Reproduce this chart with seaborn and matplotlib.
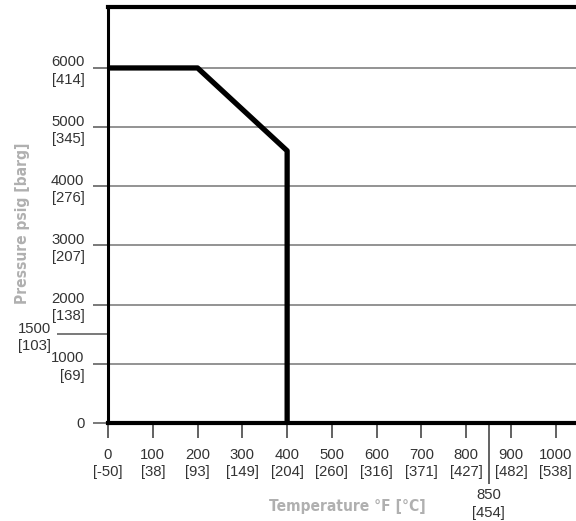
import matplotlib
matplotlib.use("Agg")
import matplotlib.pyplot as plt
import seaborn as sns
import pandas as pd

# ---- data ----
temp_f = [0, 200, 400, 400]
pressure_psig = [6000, 6000, 4600, 0]

x_ticks = [0, 100, 200, 300, 400, 500, 600, 700, 800, 900, 1000]
x_tick_labels = ["0\n[-50]", "100\n[38]", "200\n[93]", "300\n[149]", "400\n[204]",
                 "500\n[260]", "600\n[316]", "700\n[371]", "800\n[427]", "900\n[482]",
                 "1000\n[538]"]
x_extra_ticks = [850]
x_extra_labels = ["850\n[454]"]

y_ticks = [0, 1000, 2000, 3000, 4000, 5000, 6000]
y_tick_labels = ["0", "1000\n[69]", "2000\n[138]", "3000\n[207]", "4000\n[276]",
                 "5000\n[345]", "6000\n[414]"]
y_extra_ticks = [1500]
y_extra_labels = ["1500\n[103]"]

x_label = "Temperature °F [°C]"
y_label = "Pressure psig [barg]"

df = pd.DataFrame({"temp": temp_f, "pressure": pressure_psig})

sns.set_style("white")
plt.rcParams["font.family"] = ["Liberation Sans", "DejaVu Sans"]

W, H = 576, 521
fig = plt.figure(figsize=(W / 100, H / 100), dpi=100)
left, right, top, bottom = 108, 576, 7, 423
ax = fig.add_axes([left / W, 1 - bottom / H, (right - left) / W, (bottom - top) / H])

sns.lineplot(data=df, x="temp", y="pressure", sort=False, estimator=None,
             color="black", linewidth=3.8, ax=ax, zorder=3)

ax.set_xlim(0, 1045)
ax.set_ylim(0, 7030)

# spines
ax.spines["right"].set_visible(False)
ax.spines["top"].set_linewidth(3)
ax.spines["bottom"].set_linewidth(3)
ax.spines["left"].set_linewidth(2.2)
for s in ("top", "bottom", "left"):
    ax.spines[s].set_color("black")

# ticks
ax.set_xticks(x_ticks, labels=x_tick_labels)
ax.set_xticks(x_extra_ticks, labels=x_extra_labels, minor=True)
ax.set_yticks(y_ticks, labels=y_tick_labels)
ax.set_yticks(y_extra_ticks, labels=y_extra_labels, minor=True)

ax.tick_params(axis="both", which="both", bottom=True, left=True, top=False, right=False)
ax.tick_params(axis="x", which="major", direction="out", length=11, width=1.3,
               color="#555555", pad=7, labelsize=10.7, labelcolor="#333333")
ax.tick_params(axis="x", which="minor", direction="out", length=44, width=1.3,
               color="#555555", pad=3, labelsize=10.7, labelcolor="#333333")
ax.tick_params(axis="y", which="major", direction="out", length=11, width=1.1,
               color="#555555", pad=6, labelsize=10.7, labelcolor="#333333")
ax.tick_params(axis="y", which="minor", direction="out", length=37, width=1.1,
               color="#555555", pad=4, labelsize=10.7, labelcolor="#333333")
for t in ax.get_xticklabels(which="both") + ax.get_yticklabels(which="both"):
    t.set_linespacing(1.3)

ax.grid(axis="y", which="major", color="#808080", linewidth=1.2)
ax.set_axisbelow(True)

# labels
lab_kw = dict(fontfamily=["DejaVu Sans"], fontstretch="condensed", fontweight="bold",
              fontsize=11.2, color="#b0b0b0")
ax.set_xlabel(x_label, **lab_kw)
ax.set_ylabel(y_label, **lab_kw)
ax.xaxis.set_label_coords((347 - left) / (right - left), (bottom - 507) / (bottom - top))
ax.xaxis.label.set_va("center")
ax.yaxis.set_label_coords((23 - left) / (right - left), (bottom - 223) / (bottom - top))
ax.yaxis.label.set_va("center")

fig.savefig("out.png", dpi=100)
